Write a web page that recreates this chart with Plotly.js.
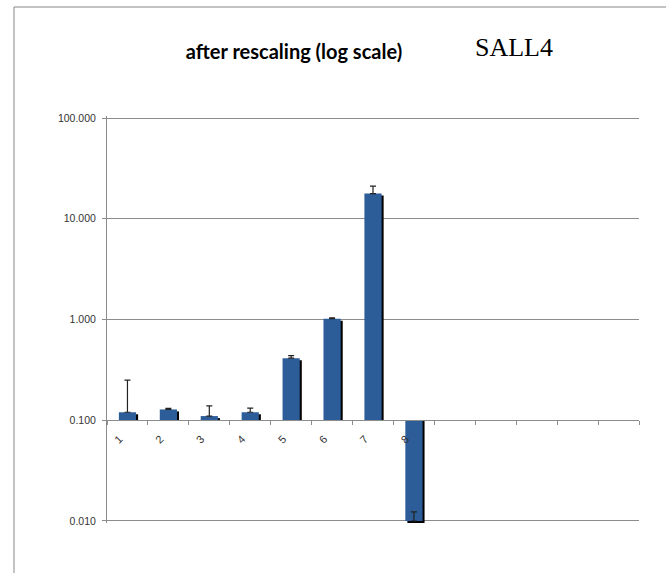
<!DOCTYPE html>
<html>
<head>
<meta charset="utf-8">
<script src="https://cdn.plot.ly/plotly-3.0.1.min.js"></script>
<style>
  html, body { margin: 0; padding: 0; background: #ffffff; }
  #chart { width: 666px; height: 573px; }
</style>
</head>
<body>
<div id="chart"></div>
<script>
// Sample numbers shown on the category axis (13 slots, 8 samples filled)
const categories = ['1', '2', '3', '4', '5', '6', '7', '8', '9', '10', '11', '12', '13'];
const tickLabels = ['1', '2', '3', '4', '5', '6', '7', '8', '', '', '', '', ''];
// Rescaled SALL4 expression per sample
const samples = ['1', '2', '3', '4', '5', '6', '7', '8'];
const values = [0.12, 0.128, 0.11, 0.12, 0.413, 1.02, 17.8, 0.01];
const errorPlus = [0.13, 0.003, 0.029, 0.012, 0.025, 0.02, 3.3, 0.0023];
// Log-axis ticks
const yTickVals = [0.01, 0.1, 1, 10, 100];
const yTickText = ['0.010', '0.100', '1.000', '10.000', '100.000'];

// Bars hang from 0.1, where the category axis crosses
const crossAt = 0.1;
const barColor = '#2c5d98';
const barWidth = 0.42;
const shadowShift = 0.05;      // shadow offset along x (category units)
const shadowFactor = 0.955;    // shadow offset along log-y (multiplicative)

// Bars are drawn as base + size, so the size is top minus base
const barSizes = values.map(v => v - crossAt);
const shadowSizes = values.map(v => v * shadowFactor - crossAt);

// Small padding on the log range keeps the 0.01 and 100 gridlines visible
const logPad = 0.02;
const yRange = [-2 - logPad, 2 + logPad];
const crossFraction = (Math.log10(crossAt) - yRange[0]) / (yRange[1] - yRange[0]);

const gridGray = '#8c8c8c';

const traces = [
  {
    type: 'bar',
    x: samples,
    y: shadowSizes,
    base: crossAt,
    width: barWidth,
    offset: -barWidth / 2 + shadowShift,
    marker: { color: '#000000', line: { width: 0 } },
    hoverinfo: 'skip',
    showlegend: false
  },
  {
    type: 'bar',
    x: samples,
    y: barSizes,
    base: crossAt,
    width: barWidth,
    offset: -barWidth / 2,
    marker: { color: barColor, line: { width: 0 } },
    error_y: {
      type: 'data',
      symmetric: false,
      array: errorPlus,
      arrayminus: samples.map(() => 0),
      color: '#222222',
      thickness: 1.2,
      width: 3
    },
    showlegend: false
  }
];

const layout = {
  width: 666,
  height: 573,
  margin: { l: 107, r: 27, t: 116, b: 50, pad: 0 },
  paper_bgcolor: '#ffffff',
  plot_bgcolor: '#ffffff',
  barmode: 'overlay',
  showlegend: false,
  title: {
    text: 'after rescaling (log scale)',
    font: { family: 'Lato, "Liberation Sans", sans-serif', size: 20, color: '#000000', weight: 'bold' },
    x: 0.4414,
    xanchor: 'center',
    y: 0.909,
    yanchor: 'middle'
  },
  xaxis: {
    type: 'category',
    categoryorder: 'array',
    categoryarray: categories,
    range: [-0.5, categories.length - 0.5],
    tickmode: 'array',
    tickvals: categories,
    ticktext: tickLabels,
    tickson: 'boundaries',
    ticks: 'outside',
    ticklen: 4,
    tickcolor: gridGray,
    tickangle: -45,
    ticklabelshift: -8,
    ticklabelstandoff: 7,
    tickfont: { family: '"Liberation Sans", Arial, sans-serif', size: 11, color: '#333333' },
    showline: true,
    linecolor: gridGray,
    linewidth: 1,
    showgrid: false,
    zeroline: false,
    anchor: 'free',
    position: crossFraction,
    fixedrange: true
  },
  yaxis: {
    type: 'log',
    range: yRange,
    tickmode: 'array',
    tickvals: yTickVals,
    ticktext: yTickText,
    ticks: 'outside',
    ticklen: 4,
    tickcolor: gridGray,
    ticklabelstandoff: 4,
    tickfont: { family: '"Liberation Sans", Arial, sans-serif', size: 10.5, color: '#333333' },
    showline: true,
    linecolor: gridGray,
    linewidth: 1,
    showgrid: true,
    gridcolor: gridGray,
    gridwidth: 1,
    zeroline: false,
    fixedrange: true
  },
  annotations: [
    {
      text: 'SALL4',
      xref: 'paper',
      yref: 'paper',
      x: 0.765,
      y: 1.168,
      xanchor: 'center',
      yanchor: 'middle',
      showarrow: false,
      font: { family: '"Liberation Serif", "Times New Roman", serif', size: 26, color: '#000000' }
    }
  ],
  shapes: [
    // chart frame (left and top edges)
    { type: 'line', xref: 'paper', yref: 'paper', x0: -0.1748, x1: -0.1748, y0: 1.2678, y1: -0.2, line: { color: '#878787', width: 1 } },
    { type: 'line', xref: 'paper', yref: 'paper', x0: -0.1748, x1: 1.2, y0: 1.2678, y1: 1.2678, line: { color: '#878787', width: 1 } }
  ]
};

Plotly.newPlot('chart', traces, layout, { displayModeBar: false, staticPlot: true });
</script>
</body>
</html>
